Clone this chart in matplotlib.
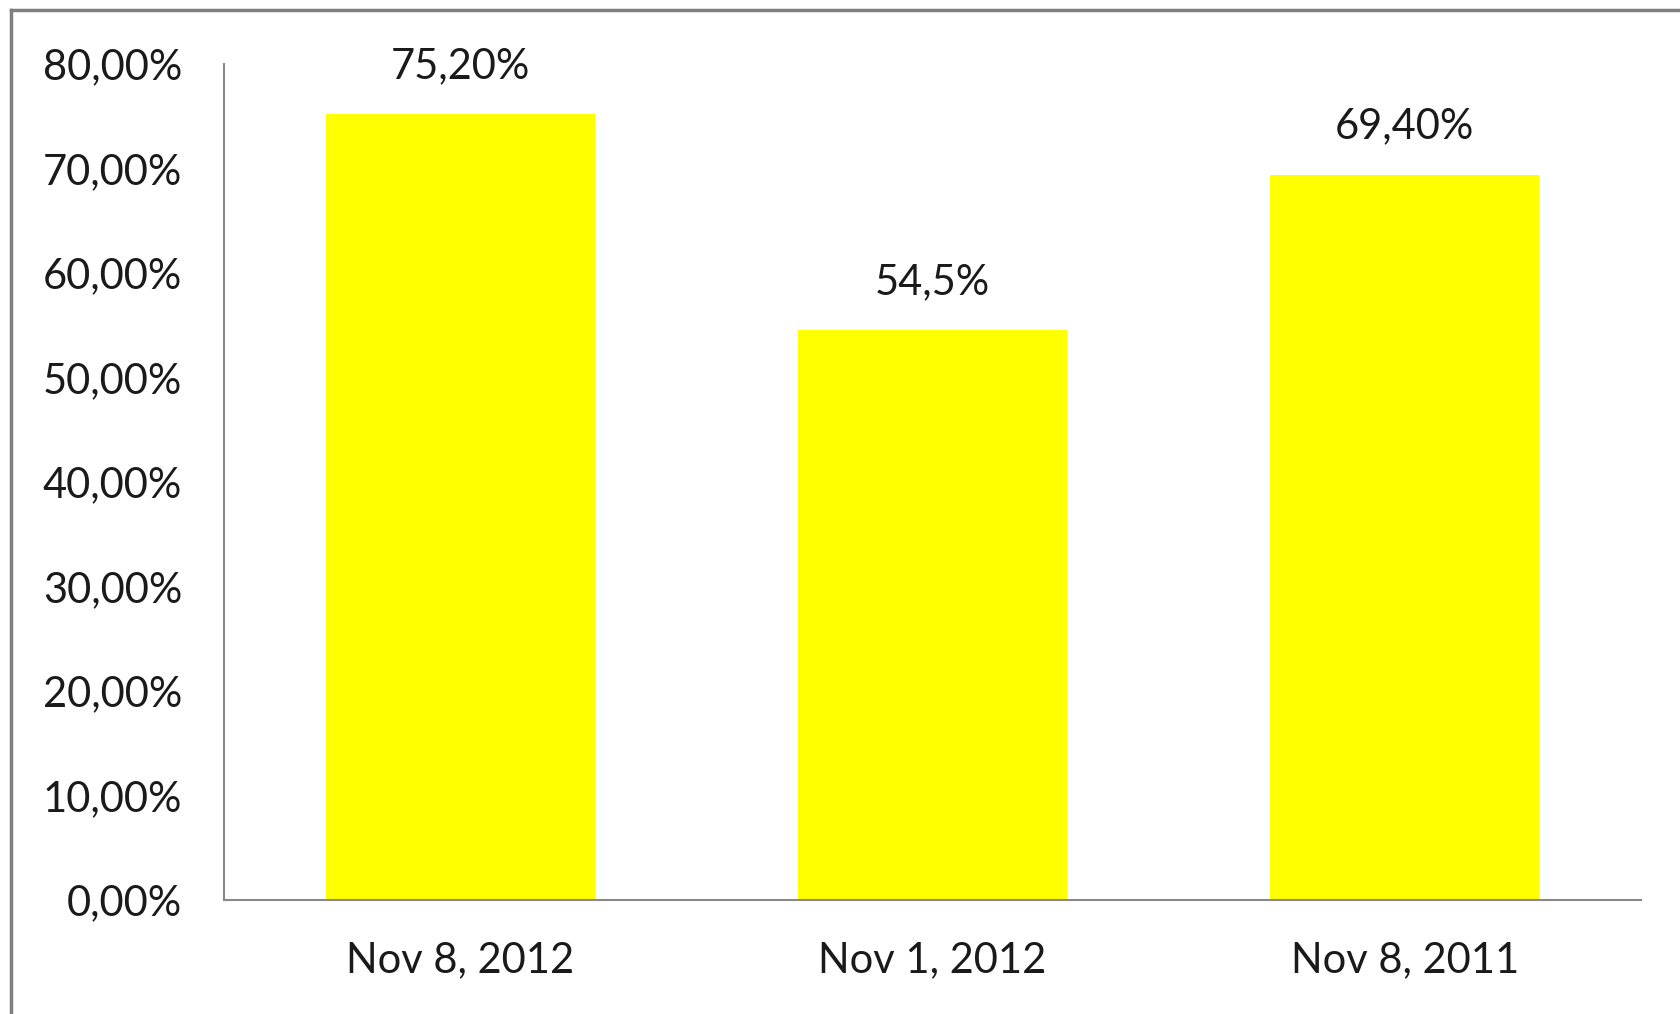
import matplotlib
matplotlib.use("Agg")
import matplotlib.pyplot as plt
from matplotlib.lines import Line2D

categories = ["Nov 8, 2012", "Nov 1, 2012", "Nov 8, 2011"]
values = [0.752, 0.545, 0.694]
value_labels = ["75,20%", "54,5%", "69,40%"]
y_ticks = [0.0, 0.1, 0.2, 0.3, 0.4, 0.5, 0.6, 0.7, 0.8]
y_tick_labels = ["0,00%", "10,00%", "20,00%", "30,00%", "40,00%",
                 "50,00%", "60,00%", "70,00%", "80,00%"]

plt.rcParams['font.family'] = ['Lato', 'DejaVu Sans']
text_color = "#1a1a1a"
axis_gray = "#898989"

fig = plt.figure(figsize=(16.8, 10.14), dpi=100)
ax = fig.add_axes([0.1333, 0.1124, 0.8435, 0.8245])

x = range(len(categories))
ax.bar(x, values, width=0.57, color="#ffff00", zorder=2)

for xi, v, lab in zip(x, values, value_labels):
    ax.annotate(lab, (xi, v), xytext=(0, 21), textcoords="offset points",
                ha="center", va="bottom", fontsize=30, color=text_color)

ax.set_xlim(-0.5, 2.5)
ax.set_ylim(0, 0.8)
ax.set_xticks(list(x))
ax.set_xticklabels(categories, fontsize=30, color=text_color)
ax.set_yticks(y_ticks)
ax.set_yticklabels(y_tick_labels, fontsize=30, color=text_color)
ax.tick_params(axis="both", length=0)
ax.tick_params(axis="y", pad=30)
ax.tick_params(axis="x", pad=30)

for s in ["top", "right"]:
    ax.spines[s].set_visible(False)
for s in ["left", "bottom"]:
    ax.spines[s].set_color(axis_gray)
    ax.spines[s].set_linewidth(1.5)

# outer chart frame (only left and top edges visible in the crop)
fig.add_artist(Line2D([0.0066, 0.0066], [0, 0.9901], transform=fig.transFigure,
                      color="#808080", linewidth=2.5))
fig.add_artist(Line2D([0.0066, 1.0], [0.9901, 0.9901], transform=fig.transFigure,
                      color="#808080", linewidth=2.5))

fig.savefig("out.png", dpi=100)
